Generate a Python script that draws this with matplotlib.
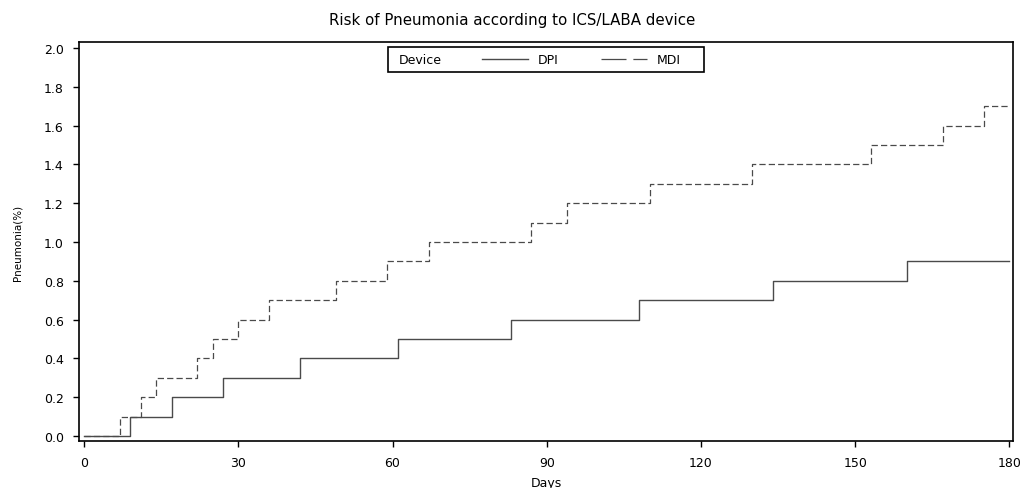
import matplotlib.pyplot as plt
from matplotlib.lines import Line2D
from matplotlib.patches import Rectangle

# cumulative pneumonia risk (%) by day, step changes
dpi_days = [0, 9, 17, 27, 42, 61, 83, 108, 134, 160, 180]
dpi_risk = [0.0, 0.1, 0.2, 0.3, 0.4, 0.5, 0.6, 0.7, 0.8, 0.9, 0.9]

mdi_days = [0, 7, 11, 14, 22, 25, 30, 36, 49, 59, 67, 87, 94, 110, 130, 153, 167, 175, 180]
mdi_risk = [0.0, 0.1, 0.2, 0.3, 0.4, 0.5, 0.6, 0.7, 0.8, 0.9, 1.0, 1.1, 1.2, 1.3, 1.4, 1.5,
            1.6, 1.7, 1.7]

x_ticks = [0, 30, 60, 90, 120, 150, 180]
y_ticks = [0.0, 0.2, 0.4, 0.6, 0.8, 1.0, 1.2, 1.4, 1.6, 1.8, 2.0]

plt.rcParams['font.family'] = ['DejaVu Sans']
plt.rcParams['font.size'] = 9

fig = plt.figure(figsize=(10.24, 4.89), dpi=100)
ax = fig.add_axes([79 / 1024, 1 - 442 / 489, (1013 - 79) / 1024, (442 - 43) / 489])

line_col = '#4a4a4a'
ax.step(dpi_days, dpi_risk, where='post', color=line_col, lw=1.0)
ax.step(mdi_days, mdi_risk, where='post', color=line_col, lw=0.9, dashes=(5, 2.5))

ax.set_xlim(-1, 180.7)
ax.set_ylim(-0.026, 2.031)
ax.set_xticks(x_ticks)
ax.set_xticklabels([str(t) for t in x_ticks])
ax.set_yticks(y_ticks)
ax.set_yticklabels([f'{t:.1f}' for t in y_ticks])
ax.tick_params(direction='out', length=4, width=1, pad=7, colors='black')
for s in ax.spines.values():
    s.set_linewidth(1.2)

ax.set_xlabel('Days', va='center')
ax.xaxis.set_label_coords(0.5, -0.103)
ax.set_ylabel('Pneumonia(%)', fontsize=7.5, va='center')
ax.yaxis.set_label_coords(-0.066, 0.5)
fig.suptitle('Risk of Pneumonia according to ICS/LABA device', y=0.958, va='center',
             fontsize=10.8)

# legend: frame and group label drawn by hand, entries laid out in one row
ax.add_patch(Rectangle((0.331, 0.925), 0.338, 0.062, transform=ax.transAxes,
                       fill=False, edgecolor='black', lw=1.2, zorder=5))
ax.text(0.3425, 0.955, 'Device', transform=ax.transAxes, va='center', ha='left')
leg_dpi = Line2D([], [], color=line_col, lw=1.0)
leg_mdi = Line2D([], [], color=line_col, lw=0.9, dashes=(20, 5.5))
ax.legend([leg_dpi, leg_mdi], ['DPI', 'MDI'], ncol=2, loc='center left',
          bbox_to_anchor=(0.4315, 0.955), frameon=False, handlelength=3.7,
          handletextpad=0.75, columnspacing=3.4, borderpad=0, borderaxespad=0)

fig.savefig('out.png', dpi=100)
